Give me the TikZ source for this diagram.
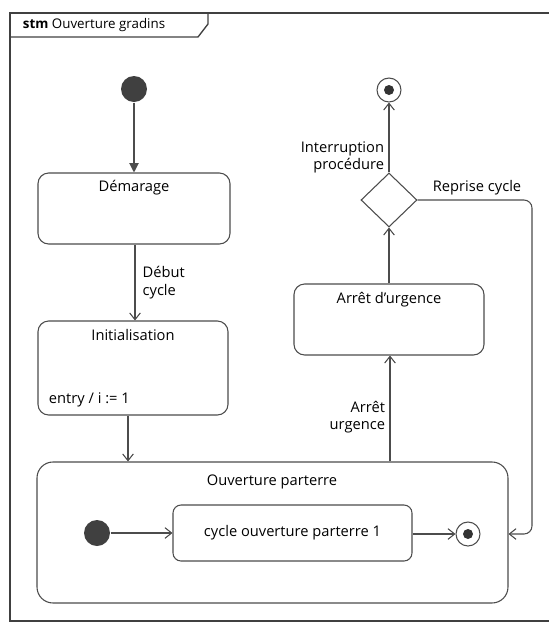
\documentclass[tikz,border=0pt]{standalone}
\usepackage{fontspec}
\setmainfont{Open Sans}
\usetikzlibrary{shapes.geometric,arrows.meta}

\begin{document}
\begin{tikzpicture}[x=0.75pt,y=-0.75pt,auto,>={Straight Barb[length=5pt,width=8pt]},
	font=\fontsize{11}{13}\selectfont, line width=0.8pt, draw=black!70]
	\tikzstyle{state} = [draw=black!70, shape=rectangle, rounded corners=8pt, line width=0.8pt]
	\tikzstyle{initial} = [fill=black!75, shape=circle, minimum size=19.5pt, inner sep=0pt]
	\tikzstyle{final} = [draw=black!70, shape=circle, minimum size=18pt, inner sep=0pt, line width=0.8pt]
	\tikzstyle{dot} = [fill=black!80, shape=circle, minimum size=7.5pt, inner sep=0pt]
	\tikzstyle{trans} = [->, draw=black!70, line width=0.8pt]
	\useasboundingbox (0,0) rectangle (549,626);
	%Frame
	\draw[black!75, line width=1.2pt] (549,13) -- (10,13) -- (10,621) -- (549,621);
	\draw[black!75, line width=1pt] (10,37) -- (198,37) -- (208,24) -- (208,13);
	\node[anchor=west] (titre) at (18,25) {\fontsize{10}{12}\selectfont\textbf{stm} Ouverture gradins};
	%States
	\node [initial] (debut) at (134,89) {};
	\node [state, minimum width=144pt, minimum height=53.25pt] (dem) at (134,208.5) {};
	\node (demT) at (134,188) {Démarage};
	\node [state, minimum width=142.5pt, minimum height=70.5pt] (init) at (133,368) {};
	\node (initT) at (133,335) {Initialisation};
	\node [anchor=west] (initE) at (44,400) {entry / i := 1};
	\node [state, rounded corners=12pt, minimum width=353.25pt, minimum height=105.75pt] (ouv) at (272.5,532.5) {};
	\node (ouvT) at (272,482) {Ouverture parterre};
	\node [initial] (debut2) at (97,533) {};
	\node [state, rounded corners=6pt, minimum width=179.25pt, minimum height=42pt] (cycle) at (292.5,533) {cycle ouverture parterre 1};
	\node [final] (fin2) at (468,534) {};
	\node [dot] at (fin2) (fin2dot) {};
	\node [state, minimum width=142.5pt, minimum height=53.25pt] (arret) at (389,319.5) {};
	\node (arretT) at (389,300) {Arrêt d'urgence};
	\node [draw=black!70, shape=diamond, minimum width=42pt, minimum height=40.5pt, inner sep=0pt, line width=0.8pt] (choix) at (389,200) {};
	\node [final] (fin) at (389,90) {};
	\node [dot] at (fin) (findot) {};
	\coordinate (reprise) at (532,200);
	%Transitions
	\draw[trans, >={Triangle[length=7pt,width=7pt]}] (debut) -- (debut |- dem.north);
	\draw[trans] (dem.south -| 135,0) to node[right, name=lbl1, align=left, xshift=2pt] {Début\\cycle} (init.north -| 135,0);
	\draw[trans] (init.south -| 128,0) -- (ouv.north -| 128,0);
	\draw[trans] (ouv.north -| 390,0) to node[left, name=lbl2, align=right, pos=0.42] {Arrêt\\urgence} (arret.south -| 390,0);
	\draw[trans] (arret.north -| choix) -- (choix.south);
	\draw[trans] (choix.north) to node[left, name=lbl3, align=right, pos=0.22] {Interruption\\procédure} (fin.south);
	\draw[trans, rounded corners=6pt] (choix.east) -- node[above, name=lbl4, pos=0.52] {Reprise cycle} (reprise) |- (ouv.east |- fin2);
	\draw[trans] (debut2) -- (cycle.west |- debut2);
	\draw[trans] (cycle.east |- fin2) -- (fin2);
\end{tikzpicture}
\end{document}
